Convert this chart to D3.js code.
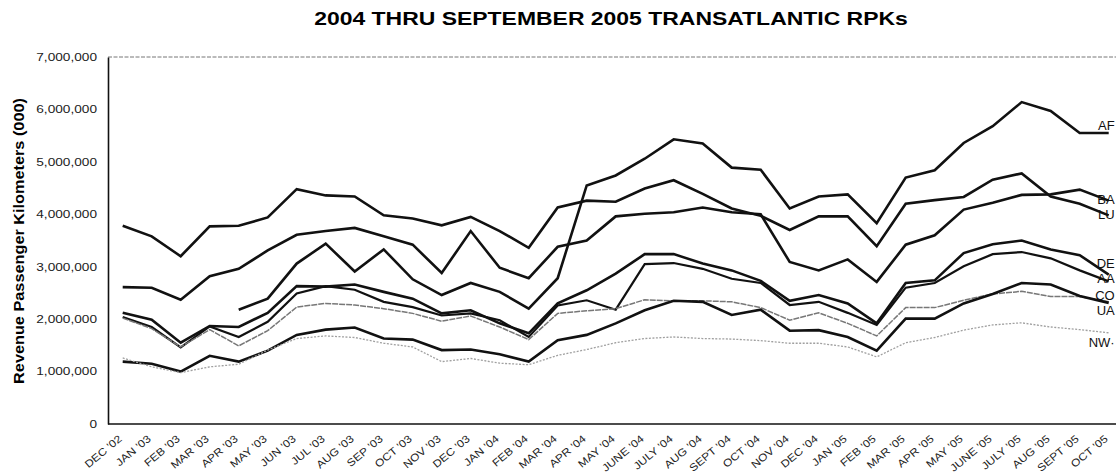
<!DOCTYPE html>
<html>
<head>
<meta charset="utf-8">
<script src="https://cdn.jsdelivr.net/npm/d3@7"></script>
<style>
body{margin:0;background:#fff;}
svg{font-family:"Liberation Sans",Arial,Helvetica,sans-serif;}
</style>
</head>
<body>
<svg id="chart" width="1116" height="474"></svg>
<script>
var months = ["DEC '02","JAN '03","FEB '03","MAR '03","APR '03","MAY '03","JUN '03","JUL '03","AUG '03","SEP '03",
	"OCT '03","NOV '03","DEC '03","JAN '04","FEB '04","MAR '04","APR '04","MAY '04","JUNE '04","JULY '04",
	"AUG '04","SEPT '04","OCT '04","NOV '04","DEC '04","JAN '05","FEB '05","MAR '05","APR '05","MAY '05",
	"JUNE '05","JULY '05","AUG '05","SEPT '05","OCT '05"];

var yTicks = [0,1000000,2000000,3000000,4000000,5000000,6000000,7000000];

var AF = [null,null,null,null,2180000,2390000,3060000,3440000,2910000,3330000,2760000,2460000,2690000,2520000,2200000,2780000,4550000,4740000,5060000,5430000,5350000,4890000,4850000,4110000,4340000,4380000,3830000,4700000,4840000,5360000,5680000,6140000,5970000,5550000,5550000];
var BA = [2610000,2600000,2370000,2820000,2960000,3310000,3610000,3680000,3740000,3580000,3420000,2880000,3680000,2980000,2780000,3380000,3500000,3960000,4010000,4040000,4130000,4040000,4000000,3090000,2930000,3140000,2710000,3420000,3600000,4090000,4220000,4370000,4380000,4470000,4260000];
var LU = [3780000,3580000,3200000,3770000,3780000,3940000,4480000,4360000,4340000,3980000,3920000,3790000,3950000,3680000,3360000,4130000,4260000,4240000,4490000,4650000,4390000,4110000,3970000,3700000,3960000,3960000,3390000,4200000,4270000,4330000,4660000,4780000,4340000,4200000,3980000];
var DE = [2120000,1990000,1550000,1870000,1850000,2120000,2630000,2620000,2660000,2520000,2390000,2110000,2170000,1920000,1730000,2300000,2550000,2870000,3240000,3240000,3060000,2930000,2730000,2350000,2460000,2300000,1920000,2690000,2740000,3260000,3430000,3500000,3330000,3220000,2850000];
var AA = [2040000,1850000,1460000,1860000,1660000,1950000,2490000,2630000,2560000,2330000,2230000,2070000,2110000,1980000,1660000,2260000,2360000,2180000,3050000,3070000,2960000,2770000,2690000,2270000,2330000,2120000,1890000,2600000,2690000,3010000,3240000,3280000,3160000,2930000,2720000];
var CO = [2020000,1820000,1470000,1800000,1490000,1780000,2230000,2300000,2270000,2200000,2110000,1960000,2060000,1850000,1610000,2110000,2160000,2200000,2370000,2350000,2350000,2330000,2220000,1980000,2120000,1920000,1680000,2220000,2220000,2360000,2480000,2530000,2430000,2430000,2330000];
var UA = [1190000,1150000,1000000,1300000,1190000,1400000,1700000,1800000,1840000,1630000,1610000,1410000,1420000,1330000,1190000,1600000,1700000,1920000,2170000,2350000,2330000,2080000,2180000,1780000,1790000,1660000,1400000,2010000,2010000,2300000,2480000,2690000,2660000,2440000,2310000];
var NW = [1260000,1090000,980000,1090000,1140000,1410000,1630000,1680000,1650000,1540000,1470000,1190000,1250000,1160000,1130000,1310000,1420000,1550000,1630000,1660000,1630000,1620000,1590000,1540000,1540000,1470000,1280000,1550000,1650000,1790000,1890000,1930000,1850000,1800000,1740000];

var carriers = ["AF","BA","LU","DE","AA","CO","UA","NW·"];
var carrierValues = [AF,BA,LU,DE,AA,CO,UA,NW];
// where each end label sits, in axis units
var labelAt = [5700000,4290000,3990000,3070000,2770000,2460000,2170000,1560000];

var svg = d3.select("#chart");
var plotLeft = 108, plotTop = 57, plotBottom = 424, plotRight = 1116;

var x = d3.scalePoint().domain(months).range([122.7, 1108.7]);
var y = d3.scaleLinear().domain([0, 7000000]).range([plotBottom, plotTop]);

// stretch text horizontally like the scanned original
function widen(sel, k){
	sel.each(function(){
		var w = this.getComputedTextLength();
		d3.select(this).attr("textLength", w*k).attr("lengthAdjust", "spacingAndGlyphs");
	});
}

svg.append("text")
	.attr("x", 611).attr("y", 25)
	.attr("text-anchor", "middle")
	.style("font-weight", "bold").style("font-size", "18.5px")
	.text("2004 THRU SEPTEMBER 2005 TRANSATLANTIC RPKs")
	.call(widen, 1.24);

svg.append("text")
	.attr("transform", "translate(24,241) rotate(-90)")
	.attr("text-anchor", "middle")
	.style("font-weight", "bold").style("font-size", "15.5px")
	.text("Revenue Passenger Kilometers (000)")
	.call(widen, 1.05);

// frame
svg.append("line")
	.attr("x1", plotLeft).attr("x2", plotRight).attr("y1", plotTop).attr("y2", plotTop)
	.attr("stroke", "#777").attr("stroke-width", 1).attr("stroke-dasharray", "4,1.5");

var yAxis = svg.append("g")
	.attr("transform", "translate(" + plotLeft + ",0)")
	.call(d3.axisLeft(y).tickValues(yTicks).tickFormat(d3.format(",")).tickSize(0).tickPadding(11));
yAxis.select(".domain").attr("stroke", "#111").attr("stroke-width", 1.6);
yAxis.selectAll("text").style("font-size", "10.5px").attr("fill", "#222").call(widen, 1.3);

var xAxis = svg.append("g")
	.attr("transform", "translate(0," + plotBottom + ")")
	.call(d3.axisBottom(x).tickSize(0));
xAxis.select(".domain").attr("d", "M" + plotLeft + ",0H" + plotRight).attr("stroke", "#111").attr("stroke-width", 1.6);
xAxis.selectAll("text")
	.attr("x", 0).attr("y", 0).attr("dy", "0.35em")
	.attr("transform", "translate(-3,13) rotate(-40)")
	.style("text-anchor", "end")
	.style("font-size", "10.5px").attr("fill", "#222")
	.call(widen, 1.15);

var line = d3.line()
	.defined(function(d){ return d != null; })
	.x(function(d, i){ return x(months[i]); })
	.y(function(d){ return y(d); });

var strokes = ["#111","#111","#111","#111","#111","#777","#111","#a0a0a0"];
var widths = [2.6,2.6,2.6,2.6,2.2,1.5,2.6,1.3];
var dashes = [null,null,null,null,null,"6,1",null,"2,1.5"];

svg.append("g").selectAll("path")
	.data(carrierValues)
	.enter().append("path")
		.attr("d", line)
		.attr("fill", "none")
		.attr("stroke", function(d, i){ return strokes[i]; })
		.attr("stroke-width", function(d, i){ return widths[i]; })
		.attr("stroke-dasharray", function(d, i){ return dashes[i]; })
		.attr("stroke-linejoin", "miter");

svg.append("g").selectAll("text")
	.data(carriers)
	.enter().append("text")
		.attr("x", x(months[months.length-1]) + 6)
		.attr("y", function(d, i){ return y(labelAt[i]); })
		.attr("dy", "0.35em")
		.attr("text-anchor", "end")
		.style("font-size", "13px").attr("fill", "#111")
		.text(function(d){ return d; });
</script>
</body>
</html>
